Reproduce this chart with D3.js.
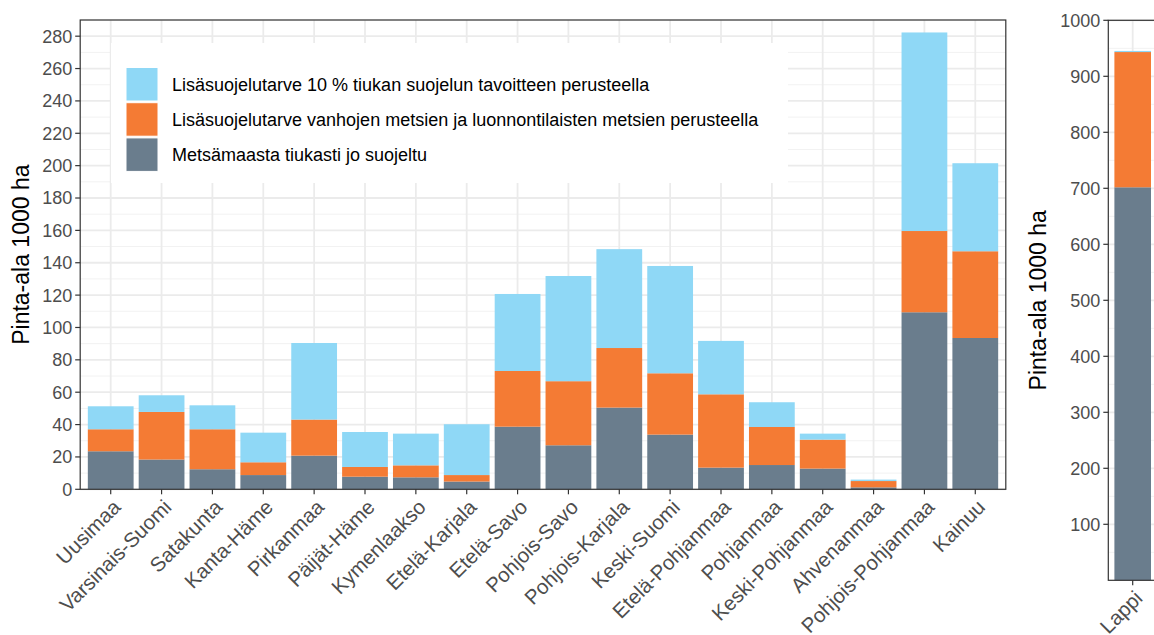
<!DOCTYPE html>
<html><head><meta charset="utf-8">
<script src="https://cdn.jsdelivr.net/npm/d3@7"></script>
<style>body{margin:0;background:#fff}svg{display:block;font-family:"Liberation Sans",Arial,sans-serif}</style>
</head><body><svg id="c" width="1154" height="635"></svg>
<script>
const regions = ["Uusimaa","Varsinais-Suomi","Satakunta","Kanta-Häme","Pirkanmaa","Päijät-Häme","Kymenlaakso","Etelä-Karjala","Etelä-Savo","Pohjois-Savo","Pohjois-Karjala","Keski-Suomi","Etelä-Pohjanmaa","Pohjanmaa","Keski-Pohjanmaa","Ahvenanmaa","Pohjois-Pohjanmaa","Kainuu"];
const alreadyProtected = [23.5,18.4,12.4,8.8,20.8,7.8,7.4,4.8,38.7,27.2,50.5,33.8,13.4,15.0,12.8,1.2,109.4,93.5];
const oldForestNeed    = [13.6,29.4,24.7,7.9,22.3,6.0,7.4,4.0,34.4,39.6,36.8,37.9,45.3,23.5,17.9,3.9,50.2,53.6];
const tenPercentNeed   = [14.2,10.3,14.8,18.3,47.3,21.6,19.6,31.4,47.6,65.0,61.1,66.3,33.0,15.3,3.7,0.9,122.7,54.4];
const lappiRegion = ["Lappi"];
const lappiProtected = [701.8];
const lappiOldForest = [241.5];
const lappiTenPercent = [2.0];
const seriesKeys = ["protected","old","ten"];
const seriesLabels = ["Lisäsuojelutarve 10 % tiukan suojelun tavoitteen perusteella","Lisäsuojelutarve vanhojen metsien ja luonnontilaisten metsien perusteella","Metsämaasta tiukasti jo suojeltu"];
const legendKeys = ["ten","old","protected"];
const mainTicks = d3.range(0, 281, 20);
const mainMinor = d3.range(10, 291, 20);
const lappiTicks = d3.range(100, 1001, 100);
const lappiMinor = d3.range(50, 1000, 100);
const yTitle = "Pinta-ala 1000 ha";

const colors = {protected:"#6a7d8d", old:"#f47b34", ten:"#8fd8f6"};

const svg = d3.select("#c");

function panel(cats, prot, old, ten, x0, x1, y0, y1, ymax, ticks, minor, titleX){
  const rows = cats.map((c,i)=>({cat:c, protected:prot[i], old:old[i], ten:ten[i]}));
  const x = d3.scaleBand().domain(cats).range([x0,x1]).paddingInner(0.1).paddingOuter(0.15);
  const y = d3.scaleLinear().domain([0,ymax]).range([y1,y0]);
  const g = svg.append("g");
  g.selectAll(".mn").data(minor.filter(v=>v<=ymax)).join("line")
    .attr("x1",x0).attr("x2",x1).attr("y1",d=>y(d)).attr("y2",d=>y(d))
    .attr("stroke","#f2f2f2").attr("stroke-width",1);
  g.selectAll(".mj").data(ticks).join("line")
    .attr("x1",x0).attr("x2",x1).attr("y1",d=>y(d)).attr("y2",d=>y(d))
    .attr("stroke","#ebebeb").attr("stroke-width",1.8);
  g.selectAll(".vg").data(cats).join("line")
    .attr("x1",d=>x(d)+x.bandwidth()/2).attr("x2",d=>x(d)+x.bandwidth()/2)
    .attr("y1",y0).attr("y2",y1).attr("stroke","#ebebeb").attr("stroke-width",1.8);
  const stack = d3.stack().keys(seriesKeys)(rows);
  g.selectAll(".s").data(stack).join("g").attr("fill",d=>colors[d.key])
    .selectAll("rect").data(d=>d).join("rect")
    .attr("x",d=>x(d.data.cat)).attr("width",x.bandwidth())
    .attr("y",d=>y(d[1])).attr("height",d=>y(d[0])-y(d[1]));
  g.append("rect").attr("x",x0).attr("y",y0).attr("width",x1-x0).attr("height",y1-y0)
    .attr("fill","none").attr("stroke","#333").attr("stroke-width",1.2);
  const ya = g.append("g");
  ya.selectAll("line").data(ticks).join("line")
    .attr("x1",x0-5).attr("x2",x0).attr("y1",d=>y(d)).attr("y2",d=>y(d))
    .attr("stroke","#333").attr("stroke-width",1.2);
  ya.selectAll("text").data(ticks).join("text")
    .attr("x",x0-8).attr("y",d=>y(d)).attr("dy","0.36em").attr("text-anchor","end")
    .attr("fill","#4d4d4d").attr("font-size",18).text(d=>d);
  const xa = g.append("g");
  xa.selectAll("line").data(cats).join("line")
    .attr("x1",d=>x(d)+x.bandwidth()/2).attr("x2",d=>x(d)+x.bandwidth()/2)
    .attr("y1",y1).attr("y2",y1+5).attr("stroke","#333").attr("stroke-width",1.2);
  xa.selectAll("text").data(cats).join("text")
    .attr("transform",d=>`translate(${x(d)+x.bandwidth()/2+1},${y1+9}) rotate(-45)`)
    .attr("text-anchor","end").attr("dy","0.7em")
    .attr("fill","#4d4d4d").attr("font-size",20.5).text(d=>d);
  g.append("text").attr("transform",`translate(${titleX},${(y0+y1)/2}) rotate(-90)`)
    .attr("text-anchor","middle").attr("dy","0.36em").attr("font-size",23).attr("fill","#000").text(yTitle);
  return {x,y,g};
}

const main = panel(regions, alreadyProtected, oldForestNeed, tenPercentNeed, 80.2, 1005.8, 20, 489.3, 290, mainTicks, mainMinor, 21);

const lg = svg.append("g");
lg.append("rect").attr("x",111).attr("y",43).attr("width",677).attr("height",140).attr("fill","#fff");
legendKeys.forEach((k,i)=>{
  const yy = 67.5 + i*35.2;
  lg.append("rect").attr("x",126).attr("y",yy).attr("width",32).attr("height",33.5)
    .attr("fill",colors[k]).attr("stroke","#fff").attr("stroke-width",1);
  lg.append("text").attr("x",172).attr("y",yy+16.7).attr("dy","0.36em")
    .attr("font-size",18).attr("fill","#000").text(seriesLabels[legendKeys.length-1-i] ? seriesLabels[i] : "");
});

const lappi = panel(lappiRegion, lappiProtected, lappiOldForest, lappiTenPercent, 1108.3, 1157.1, 20.3, 580.3, 1000, lappiTicks, lappiMinor, 1038);
</script></body></html>
